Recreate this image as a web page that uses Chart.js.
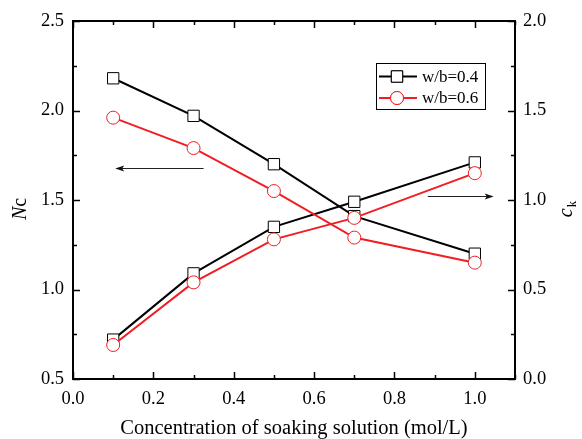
<!DOCTYPE html>
<html>
<head>
<meta charset="utf-8">
<script src="https://cdn.jsdelivr.net/npm/chart.js@4/dist/chart.umd.min.js"></script>
<style>
  html, body { margin: 0; padding: 0; background: #fff; }
  #wrap { width: 582px; height: 439px; }
</style>
</head>
<body>
<div id="wrap"><canvas id="chart" width="582" height="439"></canvas></div>
<script>
// values
const concentrations = [0.1, 0.3, 0.5, 0.7, 1.0];
const ncWb04 = [2.18, 1.97, 1.70, 1.41, 1.20];
const ncWb06 = [1.96, 1.79, 1.55, 1.29, 1.15];
const ckWb04 = [0.22, 0.59, 0.85, 0.99, 1.21];
const ckWb06 = [0.19, 0.54, 0.78, 0.90, 1.15];

const seriesLabels = ['w/b=0.4', 'w/b=0.6'];
const xTickValues = [0.0, 0.2, 0.4, 0.6, 0.8, 1.0];
const ncTickValues = [0.5, 1.0, 1.5, 2.0, 2.5];
const ckTickValues = [0.0, 0.5, 1.0, 1.5, 2.0];

// arrows pointing at the axis each pair of curves belongs to (data units)
const ncArrow = {axis: 'y', y: 1.68, from: 0.325, to: 0.105};
const ckArrow = {axis: 'y1', y: 1.02, from: 0.883, to: 1.047};

const BLACK = '#000000';
const RED = 'rgb(240,30,35)';
const FONT = "'Liberation Serif', 'Times New Roman', serif";

Chart.defaults.font.family = FONT;
Chart.defaults.color = '#000';

function pts(ys) {
    return concentrations.map((x, i) => ({x: x, y: ys[i]}));
}

function series(label, ys, axis, color, shape) {
    return {
        label: label,
        data: pts(ys),
        yAxisID: axis,
        borderColor: color,
        borderWidth: 2,
        pointStyle: shape,
        pointRadius: shape === 'rect' ? 8 : 6.5,
        pointBorderWidth: 1,
        pointBorderColor: color,
        pointBackgroundColor: '#fff',
        tension: 0,
        fill: false
    };
}

// first dataset is painted last, so the red curves go first
const datasets = [
    series(seriesLabels[1], ckWb06, 'y1', RED, 'circle'),
    series(seriesLabels[1], ncWb06, 'y', RED, 'circle'),
    series(seriesLabels[0], ckWb04, 'y1', BLACK, 'rect'),
    series(seriesLabels[0], ncWb04, 'y', BLACK, 'rect')
];

function fixedTicks(values) {
    return function (scale) {
        scale.ticks = values.map(v => ({value: v}));
    };
}

const framePlugin = {
    id: 'frame',
    afterDatasetsDraw(chart) {
        const ctx = chart.ctx;
        const a = chart.chartArea;
        const sx = chart.scales.x, sy = chart.scales.y, sy1 = chart.scales.y1;
        ctx.save();
        ctx.strokeStyle = '#000';
        ctx.lineWidth = 2;
        ctx.strokeRect(a.left, a.top, a.right - a.left, a.bottom - a.top);

        ctx.lineWidth = 1.5;
        ctx.beginPath();
        // x ticks, bottom and top, pointing inward
        for (let v = 0; v <= 1.1001; v += 0.1) {
            const px = Math.round(sx.getPixelForValue(v)) + 0.5;
            const major = Math.round(v * 10) % 2 === 0;
            const len = major ? 7 : 4;
            ctx.moveTo(px, a.bottom); ctx.lineTo(px, a.bottom - len);
            ctx.moveTo(px, a.top); ctx.lineTo(px, a.top + len);
        }
        // left axis ticks
        for (let v = 0.5; v <= 2.5001; v += 0.25) {
            const py = Math.round(sy.getPixelForValue(v)) + 0.5;
            const major = Math.round(v * 4) % 2 === 0;
            ctx.moveTo(a.left, py); ctx.lineTo(a.left + (major ? 7 : 4), py);
        }
        // right axis ticks
        for (let v = 0; v <= 2.0001; v += 0.25) {
            const py = Math.round(sy1.getPixelForValue(v)) + 0.5;
            const major = Math.round(v * 4) % 2 === 0;
            ctx.moveTo(a.right, py); ctx.lineTo(a.right - (major ? 7 : 4), py);
        }
        ctx.stroke();

        // arrows
        [ncArrow, ckArrow].forEach(ar => {
            const scale = chart.scales[ar.axis];
            const py = Math.round(scale.getPixelForValue(ar.y)) + 0.5;
            const x0 = sx.getPixelForValue(ar.from);
            const x1 = sx.getPixelForValue(ar.to);
            const dir = Math.sign(x1 - x0);
            ctx.strokeStyle = '#222';
            ctx.fillStyle = '#111';
            ctx.lineWidth = 1.2;
            ctx.beginPath();
            ctx.moveTo(x0, py);
            ctx.lineTo(x1 - dir * 6, py);
            ctx.stroke();
            ctx.beginPath();
            ctx.moveTo(x1, py);
            ctx.lineTo(x1 - dir * 9, py - 3);
            ctx.lineTo(x1 - dir * 7, py);
            ctx.lineTo(x1 - dir * 9, py + 3);
            ctx.closePath();
            ctx.fill();
        });
        ctx.restore();
    },
    afterDraw(chart) {
        const ctx = chart.ctx;
        const a = chart.chartArea;
        ctx.save();
        ctx.fillStyle = '#000';
        ctx.textBaseline = 'middle';

        // left title: italic N + c
        ctx.save();
        ctx.translate(21, 209);
        ctx.rotate(-Math.PI / 2);
        ctx.font = 'italic 20px ' + FONT;
        const wN = ctx.measureText('N').width;
        ctx.font = '20px ' + FONT;
        const wc = ctx.measureText('c').width;
        let x = -(wN + wc) / 2;
        ctx.textAlign = 'left';
        ctx.font = 'italic 20px ' + FONT;
        ctx.fillText('N', x, 0);
        ctx.font = '20px ' + FONT;
        ctx.fillText('c', x + wN, 0);
        ctx.restore();

        // right title: italic c with subscript k
        ctx.save();
        ctx.translate(567, 209);
        ctx.rotate(-Math.PI / 2);
        ctx.textAlign = 'left';
        ctx.font = 'italic 20px ' + FONT;
        const wc2 = ctx.measureText('c').width;
        ctx.font = '13px ' + FONT;
        const wk = ctx.measureText('k').width;
        x = -(wc2 + wk + 1) / 2;
        ctx.font = 'italic 20px ' + FONT;
        ctx.fillText('c', x, 0);
        ctx.font = '13px ' + FONT;
        ctx.fillText('k', x + wc2 + 1, 6);
        ctx.restore();

        // legend box inside the plot, upper right
        const bx = a.right - 139, by = a.top + 42, bw = 109, bh = 46;
        ctx.lineWidth = 1;
        ctx.strokeStyle = '#000';
        ctx.strokeRect(bx + 0.5, by + 0.5, bw, bh);
        const rows = [
            {label: seriesLabels[0], color: BLACK, shape: 'rect', r: 8},
            {label: seriesLabels[1], color: RED, shape: 'circle', r: 6.5}
        ];
        rows.forEach((row, i) => {
            const cy = by + 13.5 + i * 21.5;
            ctx.strokeStyle = row.color;
            ctx.lineWidth = 2;
            ctx.beginPath();
            ctx.moveTo(bx + 3, cy);
            ctx.lineTo(bx + 41, cy);
            ctx.stroke();
            ctx.lineWidth = 1;
            ctx.fillStyle = '#fff';
            Chart.helpers.drawPoint(ctx, {pointStyle: row.shape, radius: row.r, borderWidth: 1}, bx + 21, cy);
            ctx.fill();
            ctx.stroke();
            ctx.fillStyle = '#000';
            ctx.font = '17px ' + FONT;
            ctx.textAlign = 'left';
            ctx.fillText(row.label, bx + 46, cy + 1);
        });
        ctx.restore();
    }
};

new Chart(document.getElementById('chart'), {
    type: 'line',
    data: {datasets: datasets},
    plugins: [framePlugin],
    options: {
        responsive: false,
        animation: false,
        events: [],
        layout: {padding: {top: 21, left: 0, right: 0, bottom: 0}},
        plugins: {
            legend: {display: false},
            tooltip: {enabled: false}
        },
        scales: {
            x: {
                type: 'linear',
                min: 0,
                max: 1.1,
                afterBuildTicks: fixedTicks(xTickValues),
                afterFit: s => { s.height = 60; },
                grid: {display: false, drawTicks: false},
                border: {display: false},
                ticks: {
                    padding: 9,
                    maxRotation: 0,
                    autoSkip: false,
                    font: {size: 18.5},
                    callback: v => Number(v).toFixed(1)
                },
                title: {
                    display: true,
                    text: 'Concentration of soaking solution (mol/L)',
                    font: {size: 20.5, lineHeight: 1},
                    padding: {top: 0, bottom: 0}
                }
            },
            y: {
                type: 'linear',
                position: 'left',
                min: 0.5,
                max: 2.5,
                afterBuildTicks: fixedTicks(ncTickValues),
                afterFit: s => { s.width = 73; },
                grid: {display: false, drawTicks: false},
                border: {display: false},
                ticks: {
                    padding: 9,
                    font: {size: 18.5},
                    callback: v => Number(v).toFixed(1)
                }
            },
            y1: {
                type: 'linear',
                position: 'right',
                min: 0,
                max: 2.0,
                afterBuildTicks: fixedTicks(ckTickValues),
                afterFit: s => { s.width = 67; },
                grid: {display: false, drawTicks: false},
                border: {display: false},
                ticks: {
                    padding: 8,
                    font: {size: 18.5},
                    callback: v => Number(v).toFixed(1)
                }
            }
        }
    }
});
</script>
</body>
</html>
